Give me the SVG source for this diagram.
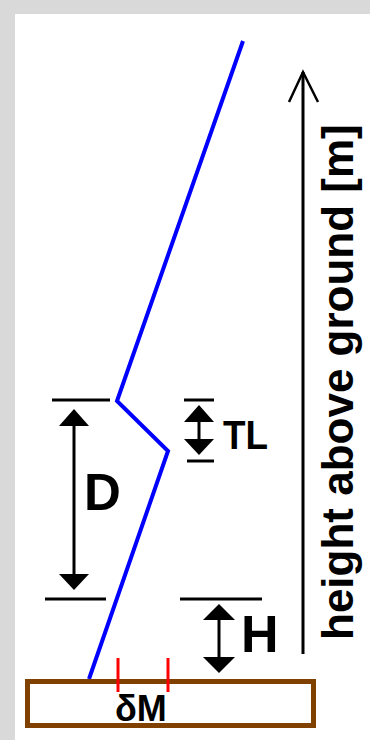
<svg xmlns="http://www.w3.org/2000/svg" width="370" height="740" viewBox="0 0 370 740">
<style>
.t{font-family:"Liberation Sans",Arial,sans-serif;font-weight:bold;fill:#000}
.k{stroke:#000;stroke-width:3;fill:none}
.h{fill:#000}
</style>
<rect x="0" y="0" width="370" height="740" fill="#d9d9d9"/>
<rect x="15" y="14" width="355" height="726" fill="#ffffff"/>
<g id="profile">
<polyline points="243,41 117,401 168,451 89,679" fill="none" stroke="#0000ff" stroke-width="4"/>
</g>
<g id="ground">
<rect x="27.5" y="681.5" width="286" height="44" fill="#ffffff" stroke="#804000" stroke-width="5"/>
<line x1="118" y1="658" x2="118" y2="692" stroke="#ff0000" stroke-width="3"/>
<line x1="168" y1="658" x2="168" y2="692" stroke="#ff0000" stroke-width="3"/>
<text class="t" x="115" y="721" font-size="36">δM</text>
</g>
<g id="connectors">
<g id="D-dim">
<line class="k" x1="52" y1="400" x2="110" y2="400"/>
<line class="k" x1="45" y1="599" x2="106" y2="599"/>
<line class="k" x1="74" y1="420" x2="74" y2="580"/>
<polygon class="h" points="74,409 89,426 59,426"/>
<polygon class="h" points="74,590 89,574 59,574"/>
</g>
<g id="TL-dim">
<line class="k" x1="184" y1="400" x2="214" y2="400"/>
<line class="k" x1="187" y1="461" x2="214" y2="461"/>
<line class="k" x1="199" y1="415" x2="199" y2="445"/>
<polygon class="h" points="199,405 214,422 184,422"/>
<polygon class="h" points="199,455 214,439 184,439"/>
</g>
<g id="H-dim">
<line class="k" x1="180" y1="599" x2="262" y2="599"/>
<line class="k" x1="219" y1="612" x2="219" y2="664"/>
<polygon class="h" points="219,604 235,620 203,620"/>
<polygon class="h" points="219,673 235,657 203,657"/>
</g>
<g id="axis">
<line class="k" x1="303" y1="72" x2="303" y2="654"/>
<polyline points="289,102 303,72 318,102" fill="none" stroke="#000" stroke-width="2.5"/>
</g>
</g>
<g id="labels">
<text class="t" x="84" y="510" font-size="51">D</text>
<text class="t" x="223" y="449" font-size="41" textLength="45" lengthAdjust="spacingAndGlyphs">TL</text>
<text class="t" x="241" y="652" font-size="52">H</text>
<text class="t" transform="translate(353,640) rotate(-90)" font-size="44">height above ground [m]</text>
</g>
</svg>
